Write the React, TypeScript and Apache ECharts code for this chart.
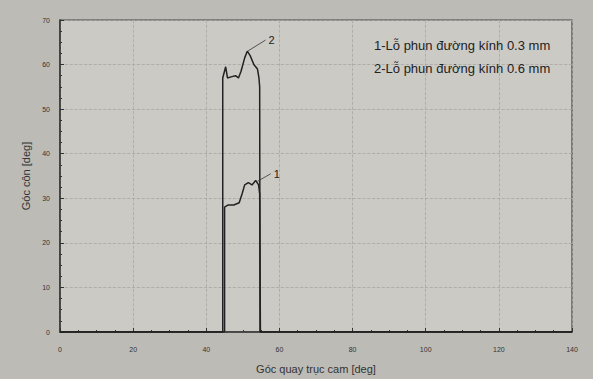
import React, { useEffect, useRef } from "react";
import * as echarts from "echarts";

const seriesNames = ["1-Lỗ phun đường kính 0.3 mm", "2-Lỗ phun đường kính 0.6 mm"];
const xTitle = "Góc quay trục cam [deg]";
const yTitle = "Góc côn [deg]";

const series1: [number, number][] = [
  [0, 0], [45, 0], [45, 28], [46, 28.5], [47.5, 28.5], [49, 29], [49.8, 31], [50.5, 33],
  [51.5, 33.5], [52.5, 33], [53.5, 34], [54.3, 33], [54.6, 31], [54.8, 0], [140, 0],
];
const series2: [number, number][] = [
  [0, 0], [44.5, 0], [44.5, 57], [45.3, 59.5], [45.8, 57], [47, 57.3], [48, 57.5], [48.8, 57],
  [49.5, 58.5], [50.5, 61.5], [51.2, 63], [52, 62], [53, 60], [54, 59], [54.4, 57], [54.6, 55],
  [54.7, 0], [140, 0],
];
const leader1: [number, number][] = [[54, 33.8], [57.6, 35.5]];
const leader2: [number, number][] = [[51.3, 63], [56.2, 65.5]];
const leaderLabels = ["1", "2"];

export default function App() {
  const ref = useRef<HTMLDivElement>(null);
  useEffect(() => {
    const chart = echarts.init(ref.current!, null, { renderer: "svg" });
    const font = "Liberation Sans";
    const leader = (data: [number, number][], label: string) => ({
      type: "line",
      data,
      symbol: "none",
      lineStyle: { color: "#333", width: 0.8 },
      endLabel: { show: true, formatter: label, distance: 3, fontSize: 11, color: "#222", fontFamily: font },
      silent: true,
    });
    chart.setOption({
      animation: false,
      backgroundColor: "#bdbbb6",
      legend: {
        data: seriesNames,
        orient: "vertical",
        left: 364,
        top: 33,
        icon: "none",
        itemWidth: 0,
        itemGap: 10,
        textStyle: { fontSize: 13, color: "#222", fontFamily: font },
      },
      grid: { left: 60, right: 21, top: 20, bottom: 45, show: true, backgroundColor: "#cccac5", borderColor: "#444", borderWidth: 1.2 },
      xAxis: {
        type: "value",
        min: 0,
        max: 140,
        interval: 20,
        name: xTitle,
        nameLocation: "middle",
        nameGap: 31,
        nameTextStyle: { fontSize: 11, color: "#333", fontFamily: font },
        axisLine: { lineStyle: { color: "#333", width: 1.5 } },
        axisTick: { inside: true, length: 4, lineStyle: { color: "#333" } },
        minorTick: { show: true, splitNumber: 4, length: 2, lineStyle: { color: "#333" } },
        axisLabel: { fontSize: 7, color: "#333", margin: 14, fontFamily: font },
        splitLine: { show: true, lineStyle: { type: "dashed", color: "#a9a7a2", width: 0.8 } },
      },
      yAxis: {
        type: "value",
        min: 0,
        max: 70,
        interval: 10,
        name: yTitle,
        nameLocation: "middle",
        nameGap: 28,
        nameTextStyle: { fontSize: 11, color: "#333", fontFamily: font },
        axisLine: { show: true, lineStyle: { color: "#333", width: 1.5 } },
        axisTick: { show: true, inside: true, length: 4, lineStyle: { color: "#333" } },
        minorTick: { show: true, splitNumber: 4, length: 2, lineStyle: { color: "#333" } },
        axisLabel: { fontSize: 7, color: "#333", margin: 10, fontFamily: font },
        splitLine: { show: true, lineStyle: { type: "dashed", color: "#a9a7a2", width: 0.8 } },
      },
      series: [
        { name: seriesNames[0], type: "line", data: series1, symbol: "none", lineStyle: { color: "#222", width: 1.5 }, itemStyle: { color: "#222" } },
        { name: seriesNames[1], type: "line", data: series2, symbol: "none", lineStyle: { color: "#222", width: 1.5 }, itemStyle: { color: "#222" } },
        leader(leader1, leaderLabels[0]),
        leader(leader2, leaderLabels[1]),
      ],
    });
    return () => chart.dispose();
  }, []);
  return <div ref={ref} style={{ width: 593, height: 379, position: "absolute", left: 0, top: 0 }} />;
}
